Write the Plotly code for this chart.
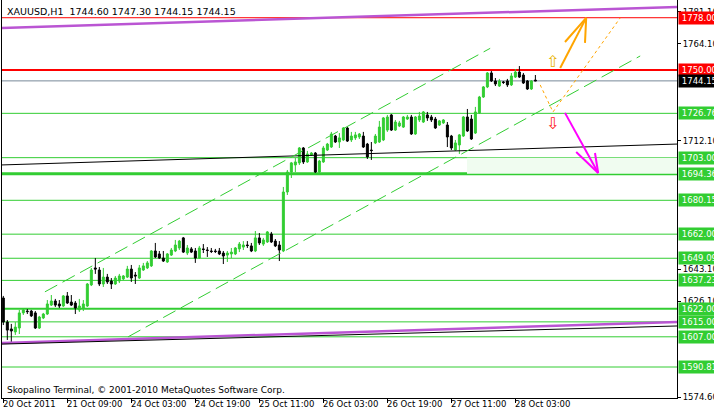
import plotly.graph_objects as go

# ---------------- data ----------------
bar_index = list(range(134))
opens = [1627.8,1614.9,1611.2,1609.6,1611.7,1619.8,1620.8,1620.8,1619.8,1611.7,
         1617.1,1619.2,1624.0,1626.2,1624.6,1623.5,1628.9,1625.6,1625.1,1621.4,
         1622.4,1623.5,1634.8,1643.9,1642.8,1635.3,1639.0,1636.9,1635.3,1636.9,
         1638.0,1639.0,1643.3,1640.1,1638.5,1642.8,1643.9,1645.0,1653.0,1651.4,
         1649.2,1647.1,1650.8,1653.0,1654.6,1660.0,1651.9,1654.1,1653.0,1649.2,
         1654.1,1653.5,1653.0,1653.0,1653.0,1651.9,1650.8,1651.4,1651.4,1654.1,
         1655.1,1656.2,1655.7,1653.0,1660.0,1656.7,1657.8,1662.1,1658.3,1656.2,
         1653.0,1684.6,1695.3,1699.1,1700.2,1708.2,1700.7,1704.4,1705.5,1695.3,
         1700.7,1707.1,1708.7,1714.6,1711.4,1712.5,1718.9,1712.5,1713.6,1714.1,
         1714.6,1710.3,1707.1,1710.9,1711.4,1712.5,1717.8,1725.9,1717.8,1720.0,
         1719.4,1723.7,1724.8,1715.7,1723.2,1722.1,1725.9,1724.8,1723.7,1720.5,
         1721.6,1720.5,1714.6,1707.1,1709.8,1714.6,1724.8,1723.7,1716.2,1727.0,
         1735.5,1740.9,1748.4,1744.1,1741.4,1743.6,1744.1,1742.0,1746.2,1748.9,
         1747.3,1744.1,1739.8,1744.6]
highs = [1628.9,1616.0,1613.9,1614.9,1621.4,1622.4,1621.9,1621.4,1620.8,1618.2,
         1619.8,1626.7,1629.4,1627.3,1626.7,1629.4,1631.0,1629.4,1626.2,1627.3,
         1626.7,1635.8,1643.9,1649.2,1644.4,1643.9,1640.7,1638.5,1639.6,1640.7,
         1640.1,1645.0,1645.5,1641.7,1645.5,1646.6,1647.6,1653.5,1657.3,1653.0,
         1653.0,1651.9,1654.6,1658.9,1658.9,1660.5,1656.2,1655.1,1654.6,1655.7,
         1656.7,1655.1,1654.6,1654.1,1654.6,1653.0,1653.0,1654.6,1655.1,1657.8,
         1658.3,1658.3,1657.3,1663.7,1662.6,1660.0,1663.7,1663.2,1659.4,1658.3,
         1687.3,1696.4,1700.7,1702.8,1708.7,1708.7,1706.6,1706.0,1706.0,1701.8,
         1709.3,1710.9,1716.8,1715.2,1716.2,1719.4,1719.4,1716.8,1716.8,1716.2,
         1716.8,1710.9,1711.4,1715.7,1722.7,1724.8,1725.9,1726.4,1723.2,1722.7,
         1725.3,1725.9,1725.9,1725.3,1727.5,1728.0,1727.5,1725.9,1724.8,1723.2,
         1723.7,1722.1,1715.2,1712.5,1715.7,1725.3,1729.1,1725.9,1730.2,1736.1,
         1741.4,1748.9,1749.5,1745.7,1745.2,1744.1,1745.2,1748.4,1750.5,1752.1,
         1748.4,1744.6,1744.6,1747.3]
lows = [1613.3,1605.3,1604.2,1608.0,1608.5,1618.7,1619.2,1617.6,1611.2,1611.2,
        1616.5,1618.7,1623.5,1623.0,1622.4,1623.0,1624.6,1623.5,1619.2,1620.3,
        1620.8,1623.0,1634.2,1640.7,1634.2,1633.7,1635.3,1632.6,1634.8,1635.8,
        1637.4,1638.5,1636.4,1635.3,1638.0,1642.3,1643.3,1644.4,1649.2,1648.7,
        1647.1,1646.6,1650.3,1652.4,1653.5,1651.9,1650.8,1651.9,1646.6,1648.7,
        1651.9,1649.8,1651.9,1651.9,1650.8,1646.0,1647.1,1649.2,1650.8,1652.4,
        1653.5,1654.6,1652.4,1652.4,1656.2,1655.7,1657.3,1657.3,1655.1,1647.6,
        1652.4,1683.0,1692.1,1695.3,1699.1,1699.6,1700.2,1703.9,1694.8,1694.8,
        1700.2,1706.6,1708.2,1710.9,1708.2,1711.9,1711.4,1711.4,1712.5,1713.0,
        1708.2,1702.3,1701.8,1710.3,1710.9,1711.9,1716.8,1717.3,1717.3,1719.4,
        1718.9,1723.2,1715.2,1715.2,1722.1,1721.6,1722.7,1722.1,1718.4,1720.0,
        1721.1,1708.7,1707.1,1706.6,1705.0,1714.1,1716.8,1712.5,1715.7,1726.4,
        1735.0,1740.3,1743.6,1741.4,1740.9,1742.5,1740.9,1741.4,1745.7,1745.7,
        1742.5,1739.3,1739.3,1744.15]
closes = [1614.9,1610.6,1610.1,1612.2,1619.8,1621.4,1620.5,1618.2,1611.7,1617.6,
          1619.2,1624.6,1626.2,1624.0,1623.5,1628.9,1625.1,1624.0,1622.4,1623.5,
          1624.6,1635.3,1642.8,1643.3,1635.3,1639.0,1636.4,1635.3,1638.5,1639.6,
          1639.6,1643.3,1638.5,1639.6,1643.9,1645.0,1646.6,1653.0,1649.8,1649.2,
          1647.6,1651.4,1653.5,1656.2,1658.3,1652.4,1654.6,1652.4,1649.2,1654.6,
          1653.8,1653.3,1652.7,1652.7,1651.4,1650.3,1651.9,1652.4,1654.6,1656.7,
          1656.2,1655.9,1653.0,1660.0,1657.3,1658.9,1663.2,1657.8,1655.7,1653.5,
          1684.6,1695.3,1700.2,1700.7,1708.2,1700.7,1705.0,1705.5,1695.3,1701.2,
          1708.2,1710.3,1715.7,1711.4,1713.6,1718.9,1711.9,1714.6,1715.2,1715.7,
          1708.7,1703.4,1706.8,1714.6,1719.4,1724.3,1724.8,1717.8,1722.1,1721.6,
          1724.8,1724.8,1715.7,1724.8,1725.3,1727.5,1724.3,1723.2,1718.9,1722.7,
          1723.2,1714.1,1708.2,1710.9,1715.2,1724.8,1717.3,1713.0,1727.5,1735.5,
          1740.9,1748.4,1744.1,1742.5,1744.1,1743.3,1742.0,1746.8,1748.9,1746.2,
          1743.0,1739.8,1744.1,1744.15]

time_tick_index = [0, 16, 32, 48, 64, 80, 96, 112, 128]
time_tick_labels = ["20 Oct 2011", "21 Oct 09:00", "24 Oct 03:00", "24 Oct 19:00",
                    "25 Oct 11:00", "26 Oct 03:00", "26 Oct 19:00", "27 Oct 11:00",
                    "28 Oct 03:00"]

# price scale labels that stay visible (the others are covered by level boxes)
price_ticks = [1781.10, 1764.10, 1712.10, 1643.10, 1626.10, 1574.60]

green_levels = [1726.76, 1703.00, 1694.36, 1680.15, 1662.00, 1649.09, 1637.23,
                1622.00, 1615.00, 1607.00, 1590.81]
green_level_widths = [1, 1, 3, 1, 1, 1, 1, 2, 1, 1, 1]
red_levels = [1778.00, 1750.00]
red_level_widths = [1, 2]
bid_level = 1744.15

zone_x = [115.9, 168.4]
zone_price = [1694.36, 1703.00]

purple_top_x, purple_top_y = [-0.4, 168.4], [1772.5, 1783.8]
purple_bot_x, purple_bot_y = [-0.4, 168.4], [1603.7, 1614.9]
black_top_x, black_top_y = [-0.4, 168.4], [1699.1, 1710.3]
black_bot_x, black_bot_y = [-0.4, 168.4], [1603.1, 1612.8]

chan_up_x, chan_up_y = [10.4, 121.7], [1631.1, 1761.6]
chan_lo_x, chan_lo_y = [31.2, 159.2], [1607.0, 1757.5]

orange_solid_x, orange_solid_y = [139.2, 145.7], [1751.1, 1777.9]
orange_head_x, orange_head_y = [140.4, 145.7, 145.4], [1765.0, 1777.9, 1764.5]
orange_dot_x, orange_dot_y = [134.2, 137.4, 154.2], [1742.0, 1727.5, 1777.9]
magenta_x, magenta_y = [140.4, 148.7], [1727.0, 1694.8]
magenta_head_x, magenta_head_y = [143.2, 148.7, 147.9], [1706.0, 1694.8, 1705.5]
up_icon = (137.2, 1754.3)
down_icon = (137.2, 1721.1)

title_text = "XAUUSD,H1&nbsp; 1744.60 1747.30 1744.15 1744.15"
footer_text = "Skopalino Terminal, © 2001-2010 MetaQuotes Software Corp."

# ---------------- styling ----------------
FONT = "DejaVu Sans"
GREEN = "#32CD32"
PURPLE = "#BA55D3"
XR = [-0.33, 168.4]
YR = [1574.2, 1787.5]

fig = go.Figure()

def seg(x, y, color, width, dash="solid"):
    fig.add_trace(go.Scatter(x=x, y=y, mode="lines", hoverinfo="skip",
                             line=dict(color=color, width=width, dash=dash),
                             showlegend=False))

seg(purple_top_x, purple_top_y, PURPLE, 2.5)
seg(purple_bot_x, purple_bot_y, PURPLE, 2.5)
seg(black_top_x, black_top_y, "black", 1)
seg(black_bot_x, black_bot_y, "black", 1)
seg(chan_up_x, chan_up_y, GREEN, 1, "14px,6px")
seg(chan_lo_x, chan_lo_y, GREEN, 1, "14px,6px")
seg(orange_dot_x, orange_dot_y, "#FFA500", 1, "3px,3px")
seg(orange_solid_x, orange_solid_y, "#FFA500", 2)
seg(orange_head_x, orange_head_y, "#FFA500", 2)
seg(magenta_x, magenta_y, "#FF00FF", 2)
seg(magenta_head_x, magenta_head_y, "#FF00FF", 2)

fig.add_trace(go.Candlestick(
    x=bar_index, open=opens, high=highs, low=lows, close=closes,
    increasing=dict(line=dict(color=GREEN, width=1), fillcolor=GREEN),
    decreasing=dict(line=dict(color="black", width=1), fillcolor="black"),
    whiskerwidth=0, showlegend=False, hoverinfo="skip"))

shapes = []
shapes.append(dict(type="rect", xref="x", yref="y", x0=zone_x[0], x1=zone_x[1],
                   y0=zone_price[0], y1=zone_price[1], fillcolor="#F0FCF0",
                   line=dict(width=0), layer="below"))
for lv, w in zip(green_levels, green_level_widths):
    shapes.append(dict(type="line", xref="paper", yref="y", x0=0, x1=1, y0=lv, y1=lv,
                       line=dict(color=GREEN, width=w), layer="below"))
for lv, w in zip(red_levels, red_level_widths):
    shapes.append(dict(type="line", xref="paper", yref="y", x0=0, x1=1, y0=lv, y1=lv,
                       line=dict(color="#FF0000", width=w), layer="below"))
shapes.append(dict(type="line", xref="paper", yref="y", x0=0, x1=1, y0=bid_level,
                   y1=bid_level, line=dict(color="#778899", width=1), layer="below"))

ann = []
for idx, lab in zip(time_tick_index, time_tick_labels):
    ann.append(dict(x=idx, xref="x", y=0, yref="paper", yanchor="top", xanchor="left",
                    xshift=-2, yshift=1, text=lab, showarrow=False,
                    font=dict(family=FONT, size=8.5, color="black")))

boxes = [(v, "#FF0000") for v in red_levels] + [(bid_level, "black")] + \
        [(v, GREEN) for v in green_levels]
for v, col in boxes:
    ann.append(dict(x=1, xref="paper", y=v, yref="y", xanchor="left", yanchor="middle",
                    xshift=1, text=f"{v:.2f}", showarrow=False, bgcolor=col,
                    width=38, height=12, align="right", borderpad=0,
                    font=dict(family=FONT, size=8.5, color="white")))

ann.append(dict(x=up_icon[0], y=up_icon[1], xref="x", yref="y", text="⇧",
                showarrow=False, font=dict(family=FONT, size=16, color="#E8B400")))
ann.append(dict(x=down_icon[0], y=down_icon[1], xref="x", yref="y", text="⇩",
                showarrow=False, font=dict(family=FONT, size=16, color="#FF2020")))
ann.append(dict(x=0, xref="paper", y=1, yref="paper", xanchor="left", yanchor="top",
                xshift=3, yshift=-4, text=title_text, showarrow=False,
                font=dict(family=FONT, size=9.5, color="black")))
ann.append(dict(x=0, xref="paper", y=0, yref="paper", xanchor="left", yanchor="bottom",
                xshift=3, yshift=1, text=footer_text, showarrow=False,
                font=dict(family=FONT, size=9, color="black")))

fig.update_layout(
    width=714, height=416, margin=dict(l=2, r=37, t=0, b=18, autoexpand=False),
    paper_bgcolor="white", plot_bgcolor="white",
    shapes=shapes, annotations=ann, showlegend=False,
    xaxis=dict(range=XR, showgrid=False, zeroline=False, showline=True,
               linecolor="black", linewidth=1, ticks="outside", ticklen=4,
               tickcolor="black", tickvals=time_tick_index, showticklabels=False,
               automargin=False, rangeslider=dict(visible=False)),
    yaxis=dict(range=YR, side="right", showgrid=False, zeroline=False, showline=True,
               mirror=True, linecolor="black", linewidth=1, ticks="outside",
               ticklen=3, tickcolor="black", tickvals=price_ticks, automargin=False,
               ticktext=[f"{v:.2f}" for v in price_ticks],
               tickfont=dict(family=FONT, size=8.5, color="black")),
)

fig.write_html("out.html", config={"displayModeBar": False},
               post_script="document.body.style.margin='0';document.body.style.overflow='hidden';")
